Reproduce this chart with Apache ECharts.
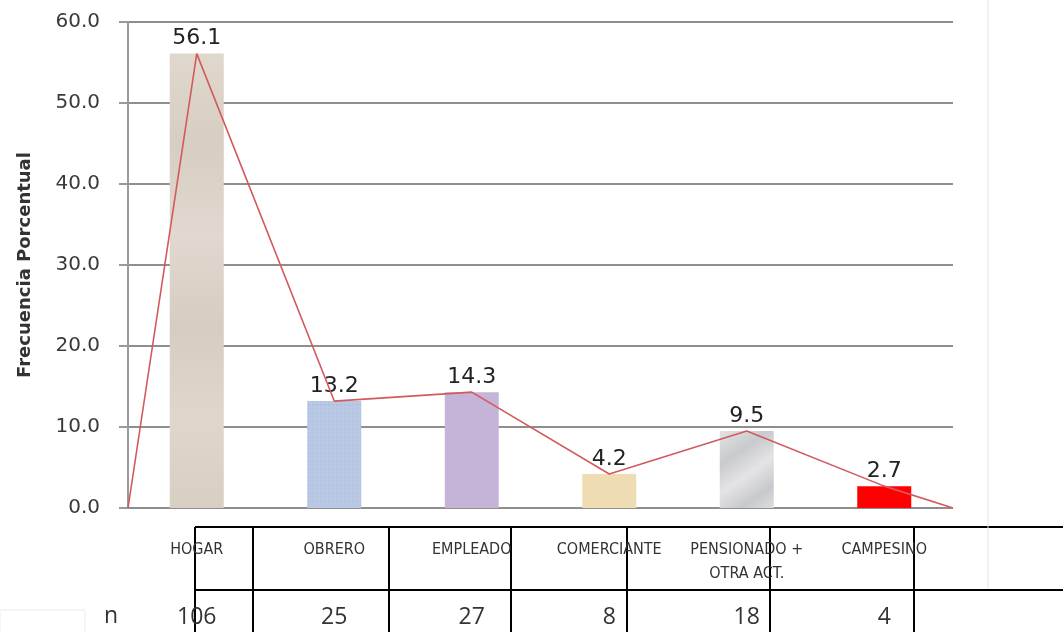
<!DOCTYPE html>
<html>
<head>
<meta charset="utf-8">
<script src="https://cdn.jsdelivr.net/npm/echarts@6/dist/echarts.min.js"></script>
<style>
  html, body { margin: 0; padding: 0; background: #ffffff; }
  #chart { width: 1063px; height: 632px; }
</style>
</head>
<body>
<div id="chart"></div>
<script>
// Occupation categories, percentage frequency and counts
var categories = ['HOGAR', 'OBRERO', 'EMPLEADO', 'COMERCIANTE', 'PENSIONADO +\nOTRA ACT.', 'CAMPESINO'];
var percentValues = [56.1, 13.2, 14.3, 4.2, 9.5, 2.7];
var countValues = [106, 25, 27, 8, 18, 4];
var yTicks = [0, 10, 20, 30, 40, 50, 60];

var barColors = ['#ddd4c9', '#b9c9e5', '#c5b4d8', '#efdcb2', '#d5d6d8', '#ff0000'];

// Frequency polygon: starts and ends at zero on the plot edges, passes through each bar top
var polygon = [[0, 0]];
percentValues.forEach(function (v, i) { polygon.push([i + 0.5, v]); });
polygon.push([categories.length, 0]);

var chart = echarts.init(document.getElementById('chart'), null, { renderer: 'canvas' });

var barData = percentValues.map(function (v, i) {
  var style = { color: barColors[i] };
  if (i === 1) {
    style.decal = {
      symbol: 'rect', symbolSize: 0.5, dashArrayX: [[2, 2], [1, 3]], dashArrayY: [2, 2],
      color: 'rgba(90,110,160,0.35)', rotation: 0
    };
  }
  if (i === 4) {
    style.color = new echarts.graphic.LinearGradient(0, 0, 1, 1, [
      { offset: 0, color: '#e2e3e5' }, { offset: 0.3, color: '#c9cacd' },
      { offset: 0.55, color: '#e4e4e6' }, { offset: 0.8, color: '#c8c9cc' },
      { offset: 1, color: '#dcdde0' }
    ]);
  }
  if (i === 0) {
    style.color = new echarts.graphic.LinearGradient(0, 0, 0, 1, [
      { offset: 0, color: '#e0d8cd' }, { offset: 0.2, color: '#d6cdc3' },
      { offset: 0.4, color: '#e1d9cf' }, { offset: 0.6, color: '#d5ccc2' },
      { offset: 0.8, color: '#e0d7cc' }, { offset: 1, color: '#d8cfc4' }
    ]);
  }
  return { value: v, itemStyle: style };
});

var tableLines = [];
var tableX = [195, 253, 389, 511, 627, 770, 914];
tableX.forEach(function (x) {
  tableLines.push({ type: 'line', shape: { x1: x, y1: 527, x2: x, y2: 632 }, style: { stroke: '#000', lineWidth: 2 } });
});
[527, 590].forEach(function (y) {
  tableLines.push({ type: 'line', shape: { x1: 195, y1: y, x2: 1063, y2: y }, style: { stroke: '#000', lineWidth: 2 } });
});
tableLines.push({ type: 'line', shape: { x1: 988, y1: 0, x2: 988, y2: 588 }, style: { stroke: '#e2e2e2', lineWidth: 1 } });
tableLines.push({ type: 'rect', shape: { x: 0, y: 610, width: 85, height: 30 }, style: { fill: 'none', stroke: '#ececec', lineWidth: 1 } });
tableLines.push({
  type: 'text', left: 104, top: 605,
  style: { text: 'n', font: '23px "Open Sans", "Liberation Sans", sans-serif', fill: '#333' }
});

chart.setOption({
  animation: false,
  backgroundColor: '#ffffff',
  grid: { left: 128, right: 110, top: 22, bottom: 124, containLabel: false },
  xAxis: [
    {
      type: 'category', data: categories, boundaryGap: true,
      axisLine: { show: false }, axisTick: { show: false },
      axisLabel: {
        interval: 0, margin: 30, lineHeight: 24,
        fontFamily: '"DejaVu Sans Condensed", "DejaVu Sans", sans-serif',
        fontSize: 16, color: '#333'
      }
    },
    {
      type: 'category', data: countValues.map(String), position: 'bottom', offset: 0,
      axisLine: { show: false }, axisTick: { show: false },
      axisLabel: {
        interval: 0, margin: 98,
        fontFamily: '"Open Sans", "Liberation Sans", sans-serif',
        fontSize: 23, color: '#333'
      }
    },
    {
      type: 'value', min: 0, max: categories.length, show: false
    }
  ],
  yAxis: {
    type: 'value', min: 0, max: 60, interval: 10,
    name: 'Frecuencia Porcentual', nameLocation: 'middle', nameGap: 94,
    nameTextStyle: { fontFamily: '"DejaVu Sans", sans-serif', fontWeight: 'bold', fontSize: 18, color: '#333' },
    axisLine: { show: true, lineStyle: { color: '#9a9a9a', width: 2 } },
    axisTick: { show: true, length: 9, lineStyle: { color: '#9a9a9a', width: 2 } },
    axisLabel: {
      margin: 28, fontFamily: '"DejaVu Sans", sans-serif', fontSize: 20, color: '#3a3a3a',
      formatter: function (v) { return yTicks.indexOf(v) >= 0 ? v.toFixed(1) : ''; }
    },
    splitLine: { show: true, lineStyle: { color: '#8e8e8e', width: 2 } }
  },
  series: [
    {
      type: 'bar', xAxisIndex: 0, data: barData, barWidth: 54,
      label: {
        show: true, position: 'top', distance: 4,
        fontFamily: '"DejaVu Sans", sans-serif', fontSize: 22, color: '#222',
        formatter: function (p) { return p.value.toFixed(1); }
      },
      z: 2
    },
    {
      type: 'line', xAxisIndex: 2, data: polygon, symbol: 'none',
      lineStyle: { color: '#d35a5c', width: 1.6 }, z: 3
    }
  ],
  graphic: tableLines
});
</script>
</body>
</html>
